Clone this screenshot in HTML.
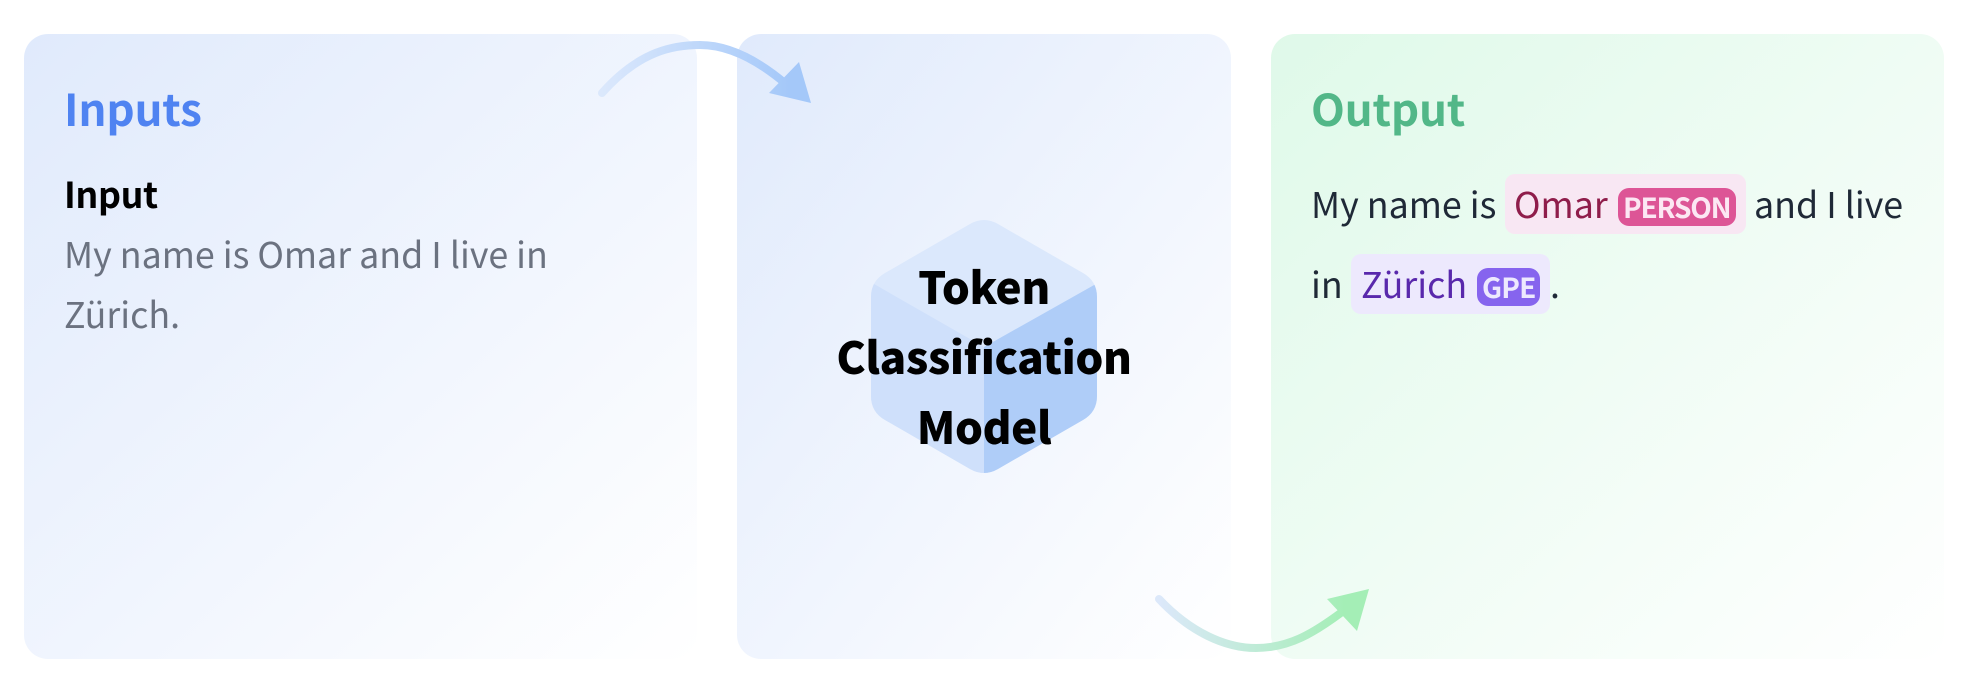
<!DOCTYPE html>
<html><head><meta charset="utf-8"><style>
html,body{margin:0;padding:0;background:#fff;width:1962px;height:682px;overflow:hidden}
body{position:relative;font-family:"Noto Sans CJK JP","Liberation Sans",sans-serif}
.p{position:absolute;top:34px;height:625px;border-radius:24px}
.t{position:absolute;white-space:nowrap;line-height:60px;font-size:35.8px}
.box{position:absolute;height:60px;border-radius:10px}
.b{position:absolute;height:38px;border-radius:11px}
svg{position:absolute;left:0;top:0}
</style></head><body>
<div class="p" style="left:24px;width:673px;background:linear-gradient(to bottom right,#e0eafc,#fff)"></div>
<div class="p" style="left:737px;width:494px;background:linear-gradient(to bottom right,#e0eafc,#fff)"></div>
<div class="p" style="left:1271px;width:673px;background:linear-gradient(to bottom right,#dff9e9,#fff)"></div>

<svg width="1962" height="682" viewBox="0 0 1962 682">
<defs>
<linearGradient id="a1" gradientUnits="userSpaceOnUse" x1="602" y1="0" x2="790" y2="0"><stop offset="0" stop-color="#dbe8fc"/><stop offset="1" stop-color="#a4c8f9"/></linearGradient>
<linearGradient id="a2" gradientUnits="userSpaceOnUse" x1="1159" y1="0" x2="1345" y2="0"><stop offset="0" stop-color="#dce8fa"/><stop offset="1" stop-color="#a4eeb6"/></linearGradient>
<clipPath id="hx"><path d="M970 224Q984 216 998 224L1083 273Q1097 281 1097 297V396Q1097 412 1083 420L998 469Q984 477 970 469L885 420Q871 412 871 396V297Q871 281 885 273Z"/></clipPath>
</defs>
<g clip-path="url(#hx)">
<rect x="860" y="210" width="250" height="280" fill="#dbe8fc"/>
<polygon points="860,276 984,347 984,490 860,490" fill="#cfe0fb"/>
<polygon points="1110,276 984,347 984,490 1110,490" fill="#afcdf8"/>
</g>
<path d="M602 93C640 50 675 45 700 45C730 45 760 62 786 84" fill="none" stroke="url(#a1)" stroke-width="8" stroke-linecap="round"/>
<polygon points="811,103 799,62 769,93" fill="url(#a1)"/>
<path d="M1159 599C1190 632 1225 648 1256 648C1290 648 1315 632 1342 612" fill="none" stroke="url(#a2)" stroke-width="8" stroke-linecap="round"/>
<polygon points="1369,589 1327,599 1357,631" fill="url(#a2)"/>
</svg>

<div class="t" style="left:64px;top:76.5px;font-size:44px;font-weight:700;letter-spacing:-.2px;color:#4f83f1">Inputs</div>
<div class="t" style="left:64px;top:163px;font-weight:700;letter-spacing:-.4px;color:#000">Input</div>
<div class="t" style="left:64px;top:223px;color:#6b7280">My name is Omar and I live in</div>
<div class="t" style="left:64px;top:283px;color:#6b7280">Zürich.</div>

<div class="t" style="left:784px;width:400px;text-align:center;top:250px;font-size:44px;font-weight:900;line-height:70px;letter-spacing:-.4px;color:#000">Token<br>Classification<br>Model</div>

<div class="t" style="left:1311px;top:76.5px;font-size:44px;font-weight:700;letter-spacing:-.2px;color:#52b788">Output</div>
<div class="t" style="left:1311px;top:173px;color:#1f2937">My name is</div>
<div class="box" style="left:1505px;top:174px;width:241px;background:#f8e7f3"></div>
<div class="t" style="left:1514px;top:173px;color:#8f1d4b">Omar</div>
<div class="b" style="left:1618px;top:188px;width:118px;background:#dd5596"></div>
<div class="t" style="left:1623px;top:177px;font-size:28px;font-weight:700;letter-spacing:-1.2px;color:#fce7f3">PERSON</div>
<div class="t" style="left:1754px;top:173px;color:#1f2937">and I live</div>
<div class="t" style="left:1311px;top:253px;color:#1f2937">in</div>
<div class="box" style="left:1351px;top:254px;width:199px;background:#ede9fd"></div>
<div class="t" style="left:1361px;top:253px;color:#5928ac">Zürich</div>
<div class="b" style="left:1477px;top:268px;width:63px;background:#8664ee"></div>
<div class="t" style="left:1482px;top:257px;font-size:28px;font-weight:700;letter-spacing:-.8px;color:#ede9fe">GPE</div>
<div class="t" style="left:1550px;top:253px;color:#1f2937">.</div>
</body></html>
